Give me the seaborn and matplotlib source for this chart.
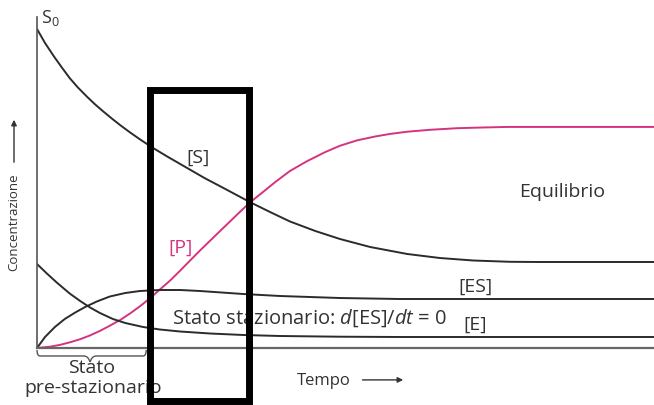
import numpy as np
import pandas as pd
import matplotlib
matplotlib.use("Agg")
import matplotlib.pyplot as plt
import seaborn as sns
from matplotlib.patches import Rectangle, PathPatch
from matplotlib.path import Path

# ---------------- data ----------------
# time in arbitrary units, concentration in % of S0
s_time = [0, 0.13, 0.28, 0.41, 0.53, 0.66, 0.81, 0.94, 1.09, 1.22, 1.35, 1.51, 1.67, 1.86,
          2.11, 2.40, 2.72, 3.05, 3.45, 3.78, 4.10, 4.51, 4.91, 5.40, 6.00, 6.53, 7.07, 7.67, 8.15, 10.0]
s_conc = [100.0, 95.61, 91.25, 87.74, 84.61, 81.72, 78.78, 76.39, 73.89, 71.82, 69.84, 67.55,
          65.39, 62.95, 60.03, 56.80, 53.23, 49.87, 45.74, 42.60, 39.66, 36.68, 34.17, 31.66,
          29.47, 28.21, 27.43, 27.02, 26.96, 26.96]

p_time = [0, 0.21, 0.37, 0.53, 0.70, 0.86, 1.02, 1.18, 1.35, 1.51, 1.67, 1.83, 1.99, 2.16, 2.32,
          2.48, 2.64, 2.84, 3.05, 3.26, 3.45, 3.65, 3.86, 4.10, 4.38, 4.67, 4.91, 5.19, 5.48, 5.72,
          6.00, 6.37, 6.81, 7.18, 7.62, 10.0]
p_conc = [0.0, 0.41, 0.97, 1.76, 2.76, 3.95, 5.36, 6.99, 8.81, 10.85, 13.10, 15.58, 18.31, 21.19,
          24.26, 27.40, 30.53, 34.29, 38.21, 42.13, 45.6, 48.7, 52.0, 55.5, 58.6, 61.4, 63.4, 65.1,
          66.3, 67.1, 67.8, 68.4, 68.9, 69.1, 69.3, 69.3]

es_time = [0, 0.13, 0.29, 0.45, 0.62, 0.78, 0.97, 1.18, 1.43, 1.67, 1.99, 2.32, 2.64, 3.34, 3.94,
           4.91, 5.88, 10.0]
es_conc = [0.0, 3.45, 6.58, 9.09, 11.13, 12.85, 14.58, 16.14, 17.24, 17.87, 18.18, 18.18, 17.87,
           16.93, 16.30, 15.67, 15.36, 15.36]

e_time = [0, 0.16, 0.32, 0.53, 0.70, 0.86, 1.02, 1.23, 1.43, 1.72, 1.99, 2.32, 2.80, 3.34, 3.94,
          4.91, 5.88, 10.0]
e_conc = [26.33, 23.35, 20.53, 17.08, 14.73, 12.70, 10.97, 9.09, 7.84, 6.58, 5.80, 5.17, 4.55,
          4.08, 3.76, 3.54, 3.45, 3.45]

series_names = ["[S]", "[P]", "[ES]", "[E]"]

frames = []
for name, t, c in zip(series_names, [s_time, p_time, es_time, e_time],
                      [s_conc, p_conc, es_conc, e_conc]):
    frames.append(pd.DataFrame({"Tempo": t, "Concentrazione": c, "serie": name}))
df = pd.concat(frames, ignore_index=True)

# ---------------- style ----------------
sns.set_theme(style="white")
plt.rcParams["font.family"] = ["Open Sans", "DejaVu Sans"]
plt.rcParams["mathtext.fontset"] = "custom"
plt.rcParams["mathtext.rm"] = "Open Sans"
plt.rcParams["mathtext.it"] = "Open Sans:italic"

W, H = 654, 406
fig = plt.figure(figsize=(W / 100, H / 100), dpi=100)
fig.patch.set_facecolor("white")

# axes: origin at pixel (37, 349), x to right edge, y-axis top at pixel 18
ax = fig.add_axes([37 / W, (H - 349) / H, (W - 37) / W, (349 - 18) / H])
ax.set_xlim(0, 10.0)
ax.set_ylim(0, 103.76)

dark = "#2b2b2b"
magenta = "#d6337f"
palette = {"[S]": dark, "[P]": magenta, "[ES]": dark, "[E]": dark}

sns.lineplot(data=df, x="Tempo", y="Concentrazione", hue="serie", palette=palette,
             sort=False, estimator=None, linewidth=1.4, legend=False, ax=ax)

for sp in ["top", "right"]:
    ax.spines[sp].set_visible(False)
ax.spines["left"].set_color("#555555")
ax.spines["left"].set_linewidth(1.2)
ax.spines["bottom"].set_color("#666666")
ax.spines["bottom"].set_linewidth(1.6)
ax.set_xticks([])
ax.set_yticks([])
ax.set_xlabel("")
ax.set_ylabel("")
ax.set_facecolor("white")

txt = "#333333"
fs = 14
ax.text(0.07, 103.8, r"S$_{\mathregular{0}}$", fontsize=13, color=txt, ha="left", va="center", clip_on=False)
ax.text(2.61, 59.9, "[S]", fontsize=fs, color=txt, ha="center", va="center")
ax.text(2.32, 31.7, "[P]", fontsize=fs, color=magenta, ha="center", va="center")
ax.text(8.52, 49.2, "Equilibrio", fontsize=fs, color=txt, ha="center", va="center")
ax.text(7.10, 19.4, "[ES]", fontsize=fs, color=txt, ha="center", va="center")
ax.text(7.10, 7.5, "[E]", fontsize=fs, color=txt, ha="center", va="center")
ax.text(2.19, 9.7, r"Stato stazionario: $d$[ES]/$dt$ = 0", fontsize=14.5, color=txt,
        ha="left", va="center")

# axis captions outside the axes
ax.text(4.65, -10.0, "Tempo", fontsize=12, color=txt, ha="center", va="center", clip_on=False)
ax.annotate("", xy=(5.98, -10.0), xytext=(5.23, -10.0), xycoords="data",
            arrowprops=dict(arrowstyle="-|>", color=txt, lw=1.0, mutation_scale=8),
            annotation_clip=False)
fig.text(14 / W, 1 - 222 / H, "Concentrazione", fontsize=9.5, color=txt, rotation=90,
         ha="center", va="center")
ax.annotate("", xy=(14 / W, 1 - 118 / H), xytext=(14 / W, 1 - 166 / H),
            xycoords="figure fraction",
            arrowprops=dict(arrowstyle="-|>", color=txt, lw=1.0, mutation_scale=8),
            annotation_clip=False)

# brace under the pre-steady-state period
x0, x1 = 0.0, 1.77
xm = 0.86
yt, yh, ytip = -0.6, -2.5, -4.4
verts = [(x0, yt), (x0, yh), (x0 + 0.05, yh), (xm - 0.1, yh), (xm - 0.03, yh), (xm, ytip),
         (xm, ytip), (xm + 0.03, yh), (xm + 0.1, yh), (x1 - 0.05, yh), (x1, yh), (x1, yt)]
codes = [Path.MOVETO, Path.CURVE3, Path.CURVE3, Path.LINETO, Path.CURVE3, Path.CURVE3,
         Path.MOVETO, Path.CURVE3, Path.CURVE3, Path.LINETO, Path.CURVE3, Path.CURVE3]
brace = PathPatch(Path(verts, codes), fill=False, edgecolor="#555555", lw=1.0, clip_on=False)
ax.add_patch(brace)
ax.text(0.89, -6.0, "Stato", fontsize=fs, color=txt, ha="center", va="center", clip_on=False)
ax.text(0.91, -12.2, "pre-stazionario", fontsize=fs, color=txt, ha="center", va="center", clip_on=False)

# black highlight rectangle (figure pixel frame)
rect = Rectangle((149.5 / W, 1 - 402 / H), (248.5 - 149.5) / W, (402 - 90.5) / H,
                 transform=fig.transFigure, fill=False, edgecolor="black", lw=5.0,
                 zorder=20, joinstyle="miter")
fig.patches.append(rect)

fig.savefig("out.png", dpi=100, facecolor="white")
